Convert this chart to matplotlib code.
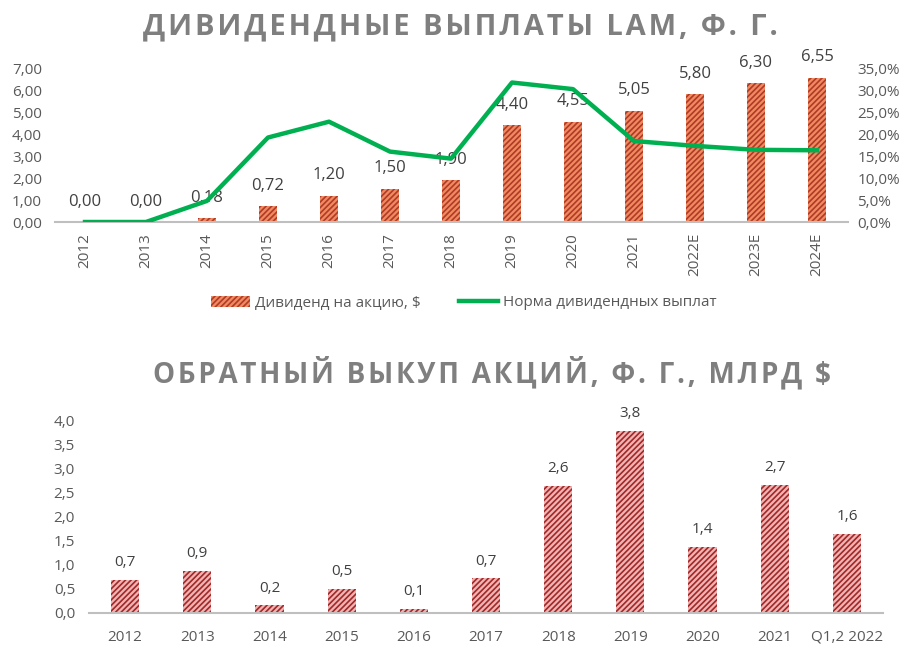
import numpy as np
import matplotlib
matplotlib.use("Agg")
import matplotlib.pyplot as plt
from matplotlib.patches import Patch
from matplotlib.lines import Line2D

plt.rcParams["font.family"] = ["Open Sans", "DejaVu Sans"]
plt.rcParams["hatch.linewidth"] = 1.2

# --- data: dividends ---
div_years = ["2012", "2013", "2014", "2015", "2016", "2017", "2018",
             "2019", "2020", "2021", "2022E", "2023E", "2024E"]
div_per_share = [0.00, 0.00, 0.18, 0.72, 1.20, 1.50, 1.90,
                 4.40, 4.55, 5.05, 5.80, 6.30, 6.55]
payout_ratio = [0.0, 0.0, 4.8, 19.2, 22.8, 16.0, 14.4,
                31.7, 30.2, 18.4, 17.3, 16.4, 16.3]

# --- data: buybacks, bn $ ---
bb_years = ["2012", "2013", "2014", "2015", "2016", "2017", "2018",
            "2019", "2020", "2021", "Q1,2 2022"]
buyback = [0.68, 0.87, 0.16, 0.50, 0.08, 0.72, 2.63, 3.77, 1.37, 2.66, 1.64]

TITLE_C = "#7F7F7F"
TXT_C = "#404040"
TICK_C = "#595959"
AXIS_C = "#BFBFBF"
GREEN = "#00B050"


def spaced(s):
    return "\u200a".join(s)


def comma(v, nd):
    return f"{v:.{nd}f}".replace(".", ",")


fig = plt.figure(figsize=(9.18, 6.48), dpi=100)

# ---------------- top chart ----------------
ax1 = fig.add_axes([54.5 / 918, 1 - 222 / 648, 793 / 918, 154 / 648])
x = np.arange(len(div_years))
ax1.bar(x, div_per_share, width=0.28, facecolor="#F08A60",
        edgecolor="#B03A26", hatch="//////", linewidth=0)
for xi, v in zip(x, div_per_share):
    ax1.annotate(comma(v, 2), (xi, v), xytext=(0, 9), textcoords="offset points",
                 ha="center", va="bottom", fontsize=12, color=TXT_C)
ax1.set_xlim(-0.5, len(div_years) - 0.5)
ax1.set_ylim(0, 7)
ax1.set_yticks(np.arange(0, 7.01, 1))
ax1.set_yticklabels([comma(t, 2) for t in np.arange(0, 7.01, 1)])
ax1.set_xticks(x)
ax1.set_xticklabels(div_years, rotation=90)
for s in ["top", "right", "left"]:
    ax1.spines[s].set_visible(False)
ax1.spines["bottom"].set_color(AXIS_C)
ax1.spines["bottom"].set_linewidth(1.5)
ax1.tick_params(length=0, labelsize=11, colors=TICK_C, pad=8)
ax1.tick_params(axis="y", pad=9)

ax2 = ax1.twinx()
ax2.plot(x, payout_ratio, color=GREEN, linewidth=3.2, solid_joinstyle="round")
ax2.set_ylim(0, 35)
ax2.set_yticks(np.arange(0, 35.01, 5))
ax2.set_yticklabels([comma(t, 1) + "%" for t in np.arange(0, 35.01, 5)])
for s in ["top", "right", "left", "bottom"]:
    ax2.spines[s].set_visible(False)
ax2.tick_params(length=0, labelsize=11, colors=TICK_C, pad=7)

handles = [Patch(facecolor="#F08A60", edgecolor="#B03A26", hatch="//////", linewidth=0),
           Line2D([0], [0], color=GREEN, linewidth=3.2)]
fig.legend(handles, ["Дивиденд на акцию, $", "Норма дивидендных выплат"],
           loc="center", bbox_to_anchor=(0.505, 1 - 303 / 648), ncol=2,
           frameon=False, fontsize=11, labelcolor=TICK_C,
           handlelength=2.6, handletextpad=0.3, columnspacing=2.5)

fig.text(460 / 918, 1 - 27 / 648, spaced("ДИВИДЕНДНЫЕ ВЫПЛАТЫ LAM, Ф. Г."),
         ha="center", va="center", fontsize=21, fontweight="bold", color=TITLE_C)

# ---------------- bottom chart ----------------
ax3 = fig.add_axes([89 / 918, 1 - 613 / 648, 794 / 918, 193 / 648])
xb = np.arange(len(bb_years))
ax3.bar(xb, buyback, width=0.39, facecolor="#F2B3B3",
        edgecolor="#A02828", hatch="//////", linewidth=0)
for xi, v in zip(xb, buyback):
    ax3.annotate(comma(v, 1), (xi, v), xytext=(0, 7), textcoords="offset points",
                 ha="center", va="bottom", fontsize=11, color=TXT_C)
ax3.set_xlim(-0.5, len(bb_years) - 0.5)
ax3.set_ylim(0, 4)
ax3.set_yticks(np.arange(0, 4.01, 0.5))
ax3.set_yticklabels([comma(t, 1) for t in np.arange(0, 4.01, 0.5)])
ax3.set_xticks(xb)
ax3.set_xticklabels(bb_years)
for s in ["top", "right", "left"]:
    ax3.spines[s].set_visible(False)
ax3.spines["bottom"].set_color(AXIS_C)
ax3.spines["bottom"].set_linewidth(1.5)
ax3.tick_params(length=0, labelsize=11, colors=TICK_C, pad=12)
ax3.tick_params(axis="y", pad=10)

fig.text(492 / 918, 1 - 373 / 648, spaced("ОБРАТНЫЙ ВЫКУП АКЦИЙ, Ф. Г., МЛРД $"),
         ha="center", va="center", fontsize=20, fontweight="bold", color=TITLE_C)

fig.savefig("out.png", dpi=100)
